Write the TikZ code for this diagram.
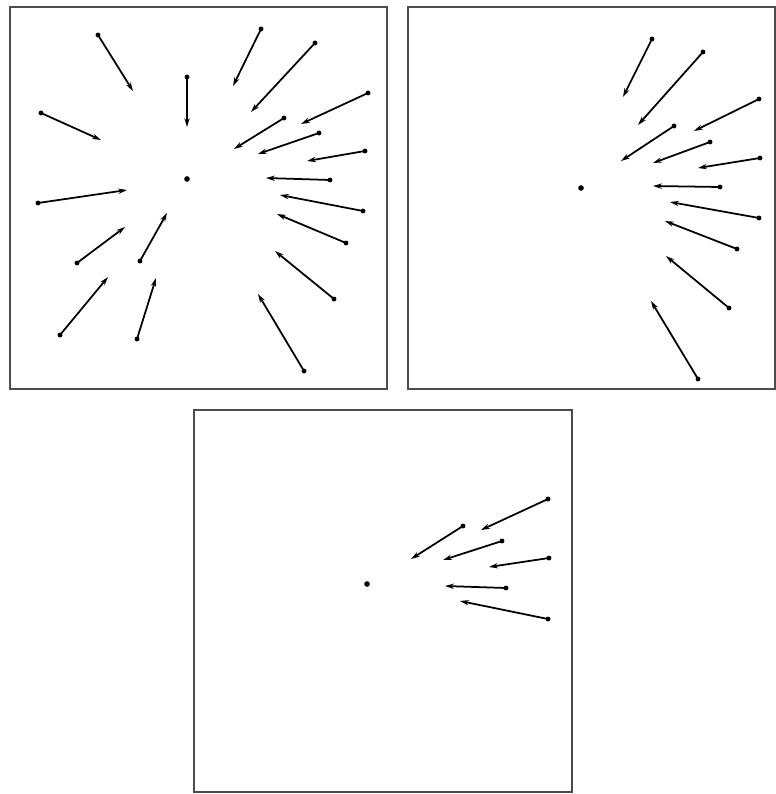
\documentclass[tikz,border=0pt]{standalone}
\usetikzlibrary{arrows.meta}
\begin{document}
\begin{tikzpicture}[x=0.02cm,y=-0.02cm,
  vec/.style={line width=1pt,-{Stealth[length=5pt,width=3pt]},
    shorten <=-0.2pt},
  taildot/.style={circle,fill=black,inner sep=0pt,minimum size=2.8pt},
  goal/.style={circle,fill=black,inner sep=0pt,minimum size=3.2pt},
  panel/.style={draw=black!70,line width=1pt}]
\useasboundingbox (0,0) rectangle (776,794);
% panels
\draw[panel] (10,7) rectangle (387,389);
\draw[panel] (408,7) rectangle (775,389);
\draw[panel] (194,410) rectangle (572,792);
% goal points
\node[goal] (g1) at (187,179) {};
\node[goal] (g2) at (581,188) {};
\node[goal] (g3) at (367,584) {};
% vectors: name/tail x/tail y/head x/head y
\foreach \n/\tx/\ty/\hx/\hy in {
  a1/98/35/133/91, a2/41/113/101/140, a3/187/77/187/127,
  b1/261/29/233/86, b2/315/43/251/112, b3/368/93/301/124,
  b4/284/118/234/149, b5/319/133/258/154, b6/365/151/307/161,
  b7/330/180/266/178, b8/363/211/280/195, b9/346/243/277/214,
  b10/334/299/275/251, b11/304/371/258/294,
  c1/38/203/127/190, c2/77/263/125/227, c3/140/261/167/213,
  c4/60/335/108/277, c5/137/339/156/278,
  d1/652/39/623/97, d2/703/52/638/125, d3/759/99/694/131,
  d4/674/126/621/161, d5/710/142/653/163, d6/760/158/698/168,
  d7/720/187/653/186, d8/759/218/670/202, d9/737/249/665/221,
  d10/729/308/666/256, d11/698/379/651/301,
  e1/548/499/481/530, e2/463/526/411/559, e3/502/541/443/560,
  e4/549/558/489/567, e5/506/588/445/586, e6/548/619/460/601}
{
  \node[taildot] (\n t) at (\tx,\ty) {};
  \coordinate (\n h) at (\hx,\hy);
  \draw[vec] (\n t.center) -- (\n h);
}
\end{tikzpicture}
\end{document}
